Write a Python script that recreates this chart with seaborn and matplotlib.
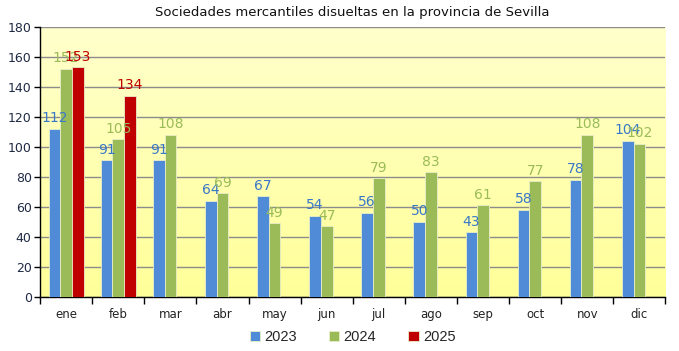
import numpy as np
import pandas as pd
import matplotlib
matplotlib.use("Agg")
import matplotlib.pyplot as plt
import seaborn as sns
from matplotlib.colors import LinearSegmentedColormap

# Data
months = ["ene", "feb", "mar", "abr", "may", "jun", "jul", "ago", "sep", "oct", "nov", "dic"]
v2023 = [112, 91, 91, 64, 67, 54, 56, 50, 43, 58, 78, 104]
v2024 = [152, 105, 108, 69, 49, 47, 79, 83, 61, 77, 108, 102]
v2025 = [153, 134]
years = ["2023", "2024", "2025"]
colors = {"2023": "#4F8BD6", "2024": "#9BBB59", "2025": "#C00000"}
label_colors = {"2023": "#3A78C8", "2024": "#9BBB59", "2025": "#C00000"}

rows = []
for m, a, b in zip(months, v2023, v2024):
    rows.append({"mes": m, "year": "2023", "value": a})
    rows.append({"mes": m, "year": "2024", "value": b})
for m, c in zip(months, v2025):
    rows.append({"mes": m, "year": "2025", "value": c})
df = pd.DataFrame(rows)

sns.set_theme(style="white")
plt.rcParams["font.family"] = ["DejaVu Sans"]

fig, ax = plt.subplots(figsize=(6.79, 3.51), dpi=100)
fig.subplots_adjust(left=0.059, right=0.98, top=0.923, bottom=0.155)

# gradient background
cmap = LinearSegmentedColormap.from_list("bg", ["#FFFF99", "#FFFFCC"])
grad = np.linspace(0, 1, 256).reshape(-1, 1)
ax.imshow(grad, cmap=cmap, aspect="auto", origin="lower",
          extent=[0, 1, 0, 1], transform=ax.transAxes, zorder=0)

sns.barplot(data=df, x="mes", y="value", hue="year", order=months,
            hue_order=years, palette=colors, saturation=1, width=0.67, gap=0,
            edgecolor="#E8EEC8", linewidth=0.6, ax=ax, zorder=3, legend=True)

for container, yr in zip(ax.containers, years):
    ax.bar_label(container, padding=2.5, color=label_colors[yr], fontsize=10)

ax.set_ylim(0, 180)
ax.set_xlim(-0.5, 11.5)
ax.set_yticks(range(0, 181, 20))
ax.yaxis.grid(True, color="#8C8C8C", linewidth=1.0, zorder=1)
ax.set_axisbelow(True)
for ln in ax.get_ygridlines():
    ln.set_zorder(1)
ax.set_xlabel("")
ax.set_ylabel("")
ax.tick_params(axis="y", which="major", length=4, width=1, color="black",
               labelsize=9, labelcolor="#1F2A44", left=True, pad=2)
ax.tick_params(axis="x", which="major", length=0, labelsize=8.5,
               labelcolor="#222222", pad=8)
ax.set_xticks(np.arange(-0.5, 12, 1), minor=True)
ax.tick_params(axis="x", which="minor", length=5, width=1, color="black", bottom=True)

for s in ["top", "right"]:
    ax.spines[s].set_visible(False)
for s in ["left", "bottom"]:
    ax.spines[s].set_color("black")
    ax.spines[s].set_linewidth(1.0)

ax.set_title("Sociedades mercantiles disueltas en la provincia de Sevilla",
             fontsize=9.5, color="#111111", pad=8)

handles, labels = ax.get_legend_handles_labels()
ax.legend(handles, labels, loc="upper center", bbox_to_anchor=(0.5, -0.075),
          ncol=3, frameon=False, handlelength=0.7, handleheight=0.7,
          handletextpad=0.3, columnspacing=2.2,
          prop={"family": "Liberation Sans", "size": 10.5})

fig.savefig("out.png", dpi=100)
